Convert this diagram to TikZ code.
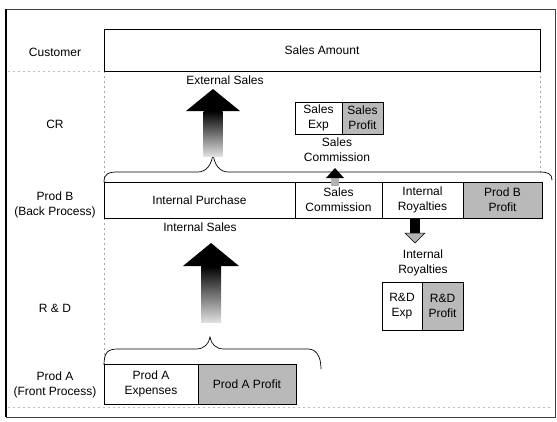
\documentclass[tikz,border=0pt]{standalone}
\usepackage{fontspec}
\setmainfont{Liberation Sans}
\newcommand\fatarrowup[6]{% x, tip, headbase, bottom, headhalf, shafthalf
  \shade[top color=black, bottom color=gray!25] (#1-#6,#3) rectangle (#1+#6,#4);
  \fill[black] (#1,#2) -- (#1+#5,#3) -- (#1-#5,#3) -- cycle;
}
\tikzset{
  txt/.style={font=\fontsize{12}{15}\selectfont, align=center, inner sep=0pt},
  box/.style={txt, draw=black, line width=0.7pt},
  profit/.style={box, fill=gray!55},
  frame/.style={draw=black!75, line width=0.7pt},
  gridline/.style={draw=gray!70, line width=0.5pt, dash pattern=on 2pt off 3pt},
  bracestyle/.style={draw=black, line width=0.7pt},
}
\begin{document}
\begin{tikzpicture}[x=1pt,y=-1pt]
\useasboundingbox (0,0) rectangle (557,421);
\fill[white] (0,0) rectangle (557,421);
% frame and faint grid
\draw[frame] (6,9) rectangle (555,417);
\draw[black, line width=1.2pt] (6,9) -- (6,417);
\draw[gridline] (104,71) -- (104,182);
\draw[gridline] (104,218) -- (104,364);
\draw[gridline] (540,71) -- (540,176);
\draw[gridline, draw=gray!50] (8,71) -- (100,71);
\draw[gridline, draw=gray!50] (8,407) -- (553,407);

% row labels
\node[txt] (lcust) at (55,52) {Customer};
\node[txt] (lcr) at (55,124) {CR};
\node[txt] (lprodb) at (55,205) {Prod B\\(Back Process)};
\node[txt] (lrd) at (55,308) {R \& D};
\node[txt] (lproda) at (55,385) {Prod A\\(Front Process)};

% customer row
\node[box, minimum width=436pt, minimum height=42pt] (amount) at (322,50) {Sales Amount};

% CR boxes
\node[box, minimum width=47pt, minimum height=32pt] (sexp) at (318.5,118) {Sales\\Exp};
\node[profit, minimum width=41pt, minimum height=32pt] (sprofit) at (362.5,118) {Sales\\Profit};

% Prod B row
\node[box, minimum width=191pt, minimum height=36pt] (ipurch) at (199.5,200) {Internal Purchase};
\node[box, minimum width=87pt, minimum height=36pt] (scomm) at (338.5,200) {Sales\\Commission};
\node[box, minimum width=81pt, minimum height=36pt] (iroy) at (422.5,200) {Internal\\Royalties};
\node[profit, minimum width=79pt, minimum height=36pt] (pbprofit) at (502.5,200) {Prod B\\Profit};

% R&D boxes
\node[box, minimum width=40pt, minimum height=48pt] (rdexp) at (402,306) {R\&D\\Exp};
\node[profit, minimum width=41pt, minimum height=48pt] (rdprofit) at (442.5,306) {R\&D\\Profit};

% Prod A row
\node[box, minimum width=94pt, minimum height=40pt] (paexp) at (151,384) {Prod A\\Expenses};
\node[profit, minimum width=98pt, minimum height=40pt] (paprofit) at (247,384) {Prod A Profit};

% flow labels
\node[txt] (lext) at (225,80) {External Sales};
\node[txt] (lscomm) at (337,150) {Sales\\Commission};
\node[txt] (lint) at (200,227) {Internal Sales};
\node[txt] (liroy) at (423,263) {Internal\\Royalties};

% braces
\coordinate (b1tip) at (213,153);
\coordinate (b2tip) at (210,337);
\draw[bracestyle] (104,182) .. controls (104,174) and (108,172) .. (118,172)
  -- (198,172) .. controls (206,172) and (212,165) .. (b1tip)
  .. controls (214,165) and (220,172) .. (228,172)
  -- (540,172) .. controls (548,172) and (552,174) .. (552,180);
\draw[bracestyle] (104,365) .. controls (104,352) and (108,349) .. (118,349)
  -- (196,349) .. controls (204,349) and (209,344) .. (b2tip)
  .. controls (211,344) and (216,349) .. (224,349)
  -- (308,349) .. controls (316,349) and (321,356) .. (321,369);

% big arrows
\fatarrowup{213}{89}{111}{156}{27}{9.5}
\fatarrowup{211}{243}{266}{322}{28}{10}

% small arrows
\fill[gray!60] (331,177) rectangle (339,186);
\fill[black] (335,168) -- (344,178) -- (326,178) -- cycle;
\fill[black] (410,219) rectangle (420,233);
\filldraw[fill=gray!60, draw=black, line width=0.5pt] (405,233) -- (425,233) -- (415,243) -- cycle;
\end{tikzpicture}
\end{document}
